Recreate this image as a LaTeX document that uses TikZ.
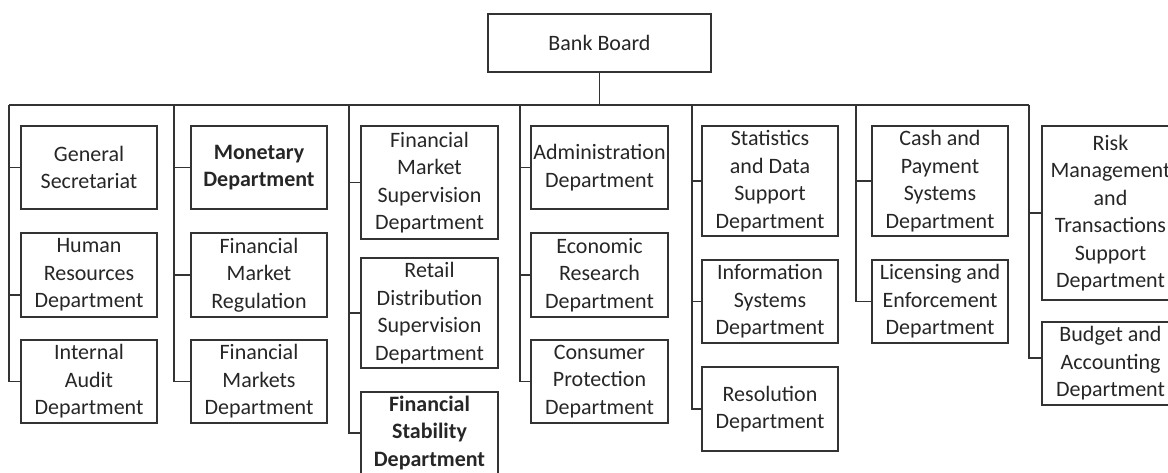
\documentclass[tikz,border=0pt]{standalone}
\usepackage{fontspec}
\setmainfont{Carlito}
\begin{document}
\begin{tikzpicture}[x=1pt,y=-1pt,line width=1.5pt,color={black!80},
  box/.style={draw,rectangle,align=center,inner sep=0pt,minimum width=136pt,
    font=\fontsize{22}{27.5}\selectfont,text=black!85}]
\useasboundingbox (0,0) rectangle (1168,472);
\clip (0,0) rectangle (1168,472);
\node[box,minimum width=223pt,minimum height=58pt] (board) at (599.5,43) {Bank Board};
% departments, column by column
\node[box,minimum height=83pt] (gs) at (89,167.5) {General\\Secretariat};
\node[box,minimum height=84pt] (hr) at (89,275) {Human\\Resources\\Department};
\node[box,minimum height=83pt] (ia) at (89,381.5) {Internal\\Audit\\Department};
\node[box,minimum height=83pt] (mon) at (259,167.5) {\textbf{Monetary}\\\textbf{Department}};
\node[box,minimum height=84pt] (fmr) at (259,275) {Financial\\Market\\Regulation};
\node[box,minimum height=83pt] (fmd) at (259,381.5) {Financial\\Markets\\Department};
\node[box,minimum width=137pt,minimum height=113pt] (fms) at (429.5,182.5) {Financial\\Market\\Supervision\\Department};
\node[box,minimum width=137pt,minimum height=110pt] (rds) at (429.5,313) {Retail\\Distribution\\Supervision\\Department};
\node[box,minimum width=137pt,minimum height=82pt] (fsd) at (429.5,433) {\textbf{Financial}\\\textbf{Stability}\\\textbf{Department}};
\node[box,minimum width=137pt,minimum height=83pt] (adm) at (599.5,167.5) {Administration\\Department};
\node[box,minimum width=137pt,minimum height=84pt] (eco) at (599.5,275) {Economic\\Research\\Department};
\node[box,minimum width=137pt,minimum height=83pt] (cpd) at (599.5,381.5) {Consumer\\Protection\\Department};
\node[box,minimum height=110pt] (sds) at (770,181) {Statistics\\and Data\\Support\\Department};
\node[box,minimum height=83pt] (isd) at (770,301.5) {Information\\Systems\\Department};
\node[box,minimum height=84pt] (res) at (770,409) {Resolution\\Department};
\node[box,minimum height=110pt] (cps) at (940,181) {Cash and\\Payment\\Systems\\Department};
\node[box,minimum height=83pt] (led) at (940,301.5) {Licensing and\\Enforcement\\Department};
\node[box,minimum width=137pt,minimum height=174pt] (rmt) at (1110.5,213) {Risk\\Management\\and\\Transactions\\Support\\Department};
\node[box,minimum width=137pt,minimum height=83pt] (bad) at (1110.5,363.5) {Budget and\\Accounting\\Department};
\coordinate (t1) at (9,105);
\coordinate (t2) at (174,105);
\coordinate (t3) at (349,105);
\coordinate (t4) at (520,105);
\coordinate (t5) at (692,105);
\coordinate (t6) at (856,105);
\coordinate (t7) at (1029,105);
\draw (board) -- (board |- t1);
\draw (t1) -- (t7);
\foreach \t/\d in {t1/gs,t1/ia,t2/mon,t2/fmr,t2/fmd,t3/fms,t3/rds,t3/fsd,
  t4/adm,t4/eco,t4/cpd,t5/sds,t5/isd,t5/res,t6/cps,t6/led,t7/rmt}
  \draw (\t) |- (\d.west);
\draw (t1) |- ([yshift=-20pt]hr.west);
\draw (t7) |- ([yshift=5.5pt]bad.west);
\end{tikzpicture}
\end{document}
